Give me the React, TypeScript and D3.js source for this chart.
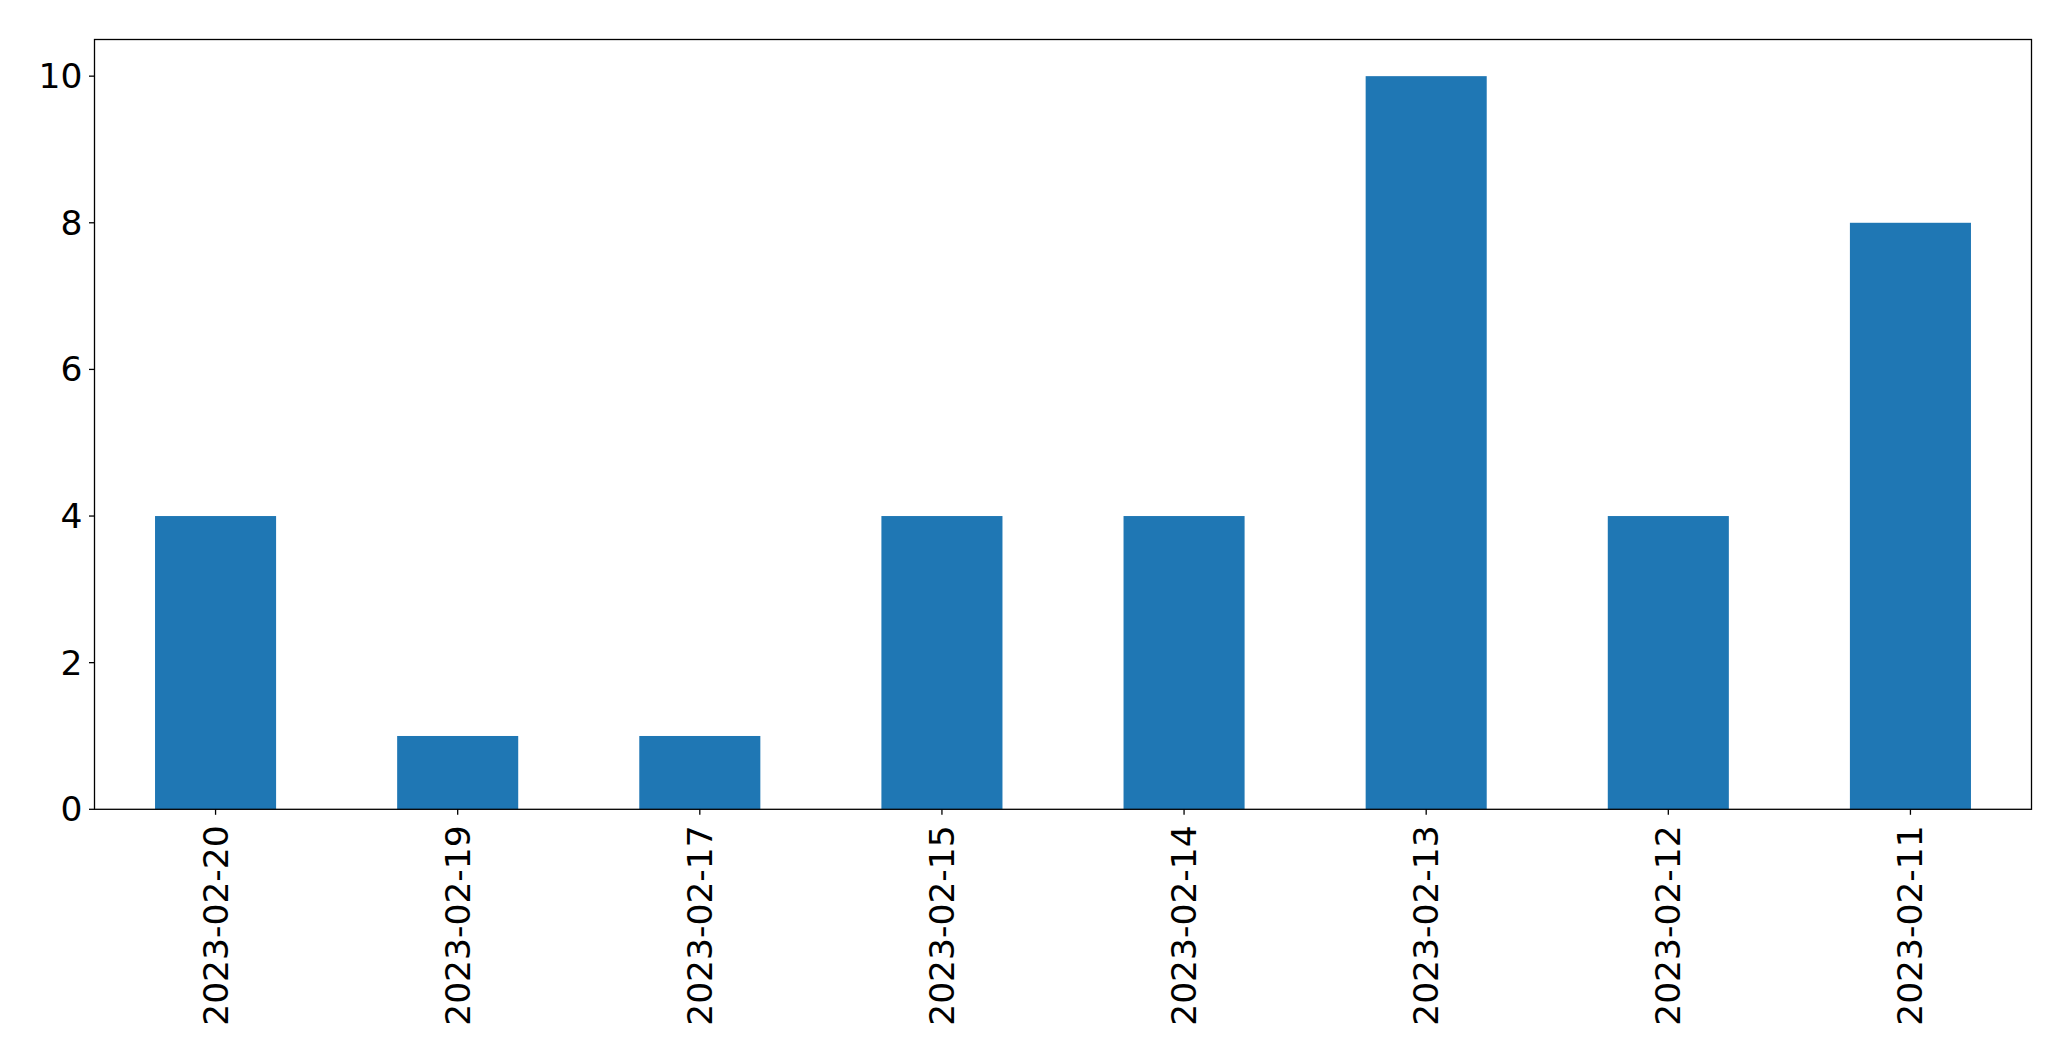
import React from "react";
import * as d3 from "d3";

const categories = ["2023-02-20", "2023-02-19", "2023-02-17", "2023-02-15", "2023-02-14", "2023-02-13", "2023-02-12", "2023-02-11"];
const values = [4, 1, 1, 4, 4, 10, 4, 8];
const yTicks = [0, 2, 4, 6, 8, 10];

const W = 2071;
const H = 1061;
const L = 94.5;
const R = 2031.5;
const T = 39.5;
const B = 809.3;
const FONT = 34.5;

export default function App() {
  const x = d3.scaleLinear().domain([-0.5, categories.length - 0.5]).range([L, R]);
  const y = d3.scaleLinear().domain([0, 10.5]).range([B, T]);
  const bw = x(0.25) - x(-0.25);
  return (
    <svg width={W} height={H} style={{ position: "absolute", left: 0, top: 0, background: "#fff" }} fontFamily="DejaVu Sans">
      <rect x={0} y={0} width={W} height={H} fill="#fff" />
      {values.map((v, i) => (
        <rect key={i} x={x(i) - bw / 2} y={y(v)} width={bw} height={y(0) - y(v)} fill="#1f77b4" />
      ))}
      <rect x={L} y={T} width={R - L} height={B - T} fill="none" stroke="#000" strokeWidth={1.3} />
      {yTicks.map((t) => (
        <g key={t}>
          <line x1={L - 5.5} x2={L} y1={y(t)} y2={y(t)} stroke="#000" strokeWidth={1.3} />
          <text x={L - 12} y={y(t)} textAnchor="end" dominantBaseline="central" fontSize={FONT} fill="#000">{t}</text>
        </g>
      ))}
      {categories.map((c, i) => (
        <g key={c}>
          <line x1={x(i)} x2={x(i)} y1={B} y2={B + 5.5} stroke="#000" strokeWidth={1.3} />
          <text transform={`translate(${x(i)},${B + 16}) rotate(-90)`} textAnchor="end" dominantBaseline="central" fontSize={FONT} fill="#000">{c}</text>
        </g>
      ))}
    </svg>
  );
}
